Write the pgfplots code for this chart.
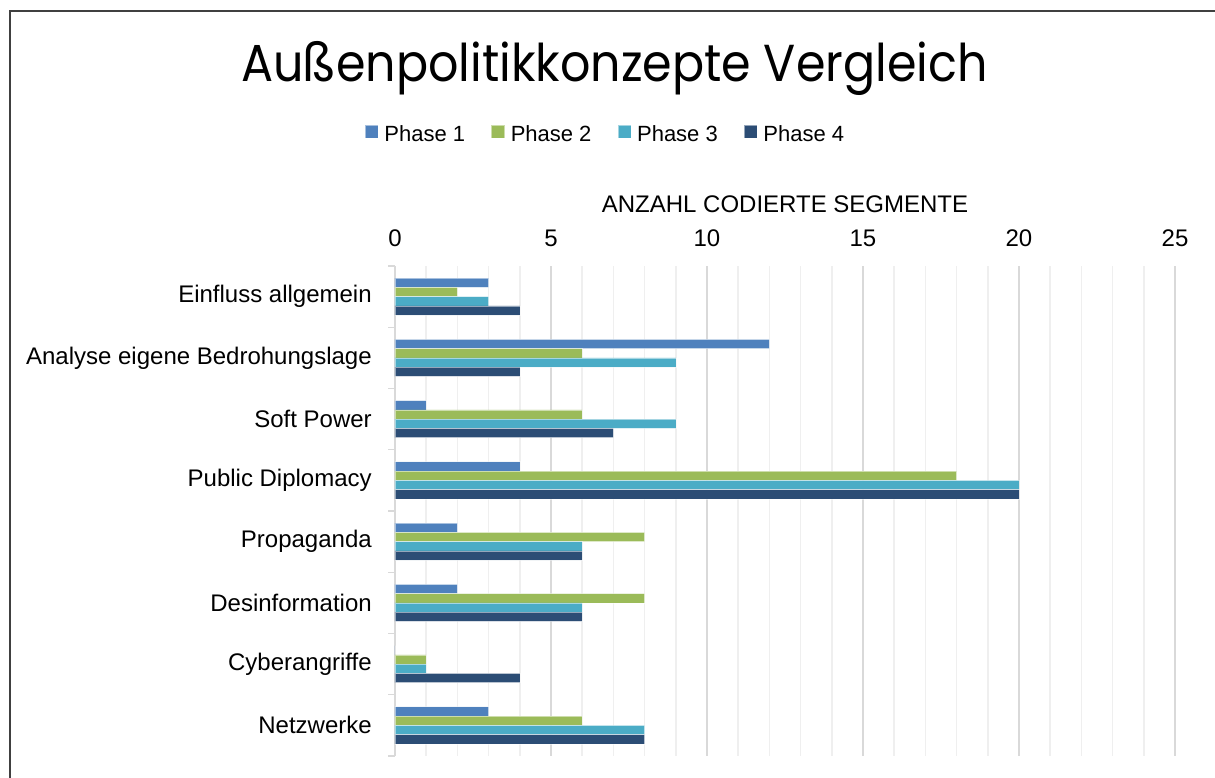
\documentclass[border=0pt]{standalone}
\usepackage{pgfplots}
\pgfplotsset{compat=1.18}
\usepackage{fontspec}
\setmainfont{Liberation Sans}
\newfontfamily\titlefont{Poppins}
\definecolor{pA}{HTML}{4F81BD}
\definecolor{pB}{HTML}{9BBB59}
\definecolor{pC}{HTML}{4BACC6}
\definecolor{pD}{HTML}{2C4D75}
\definecolor{gridmajor}{HTML}{D9D9D9}
\definecolor{gridminor}{HTML}{EFEFEF}
\definecolor{frame}{HTML}{404040}
\begin{document}
\begin{tikzpicture}
\path[use as bounding box] (0pt,0pt) rectangle (911.25pt,583.5pt);
\draw[line width=1.5pt, color=frame] (7.5pt,-5pt) -- (7.5pt,575.25pt) -- (915pt,575.25pt);
\node[anchor=base, inner sep=0pt] at (460.875pt,522pt) {\scalebox{0.915}[1]{\titlefont\fontsize{39}{46}\selectfont Außenpolitikkonzepte Vergleich}};
\begin{axis}[
  at={(296.25pt,16.5pt)}, anchor=south west,
  scale only axis, width=585pt, height=367.5pt,
  xbar, bar width=0.152,
  xmin=0, xmax=25, ymin=-0.5, ymax=7.5,
  xtick={0,5,...,25}, minor xtick={0,...,25},
  xmajorgrids, xminorgrids,
  major grid style={color=gridmajor, line width=1.1pt},
  minor grid style={color=gridminor, line width=1.1pt},
  axis x line*=top, axis y line*=left,
  x axis line style={draw=none},
  y axis line style={color=gridmajor, line width=1.1pt},
  ytick={0,...,7},
  yticklabels={Netzwerke, Cyberangriffe, Desinformation, Propaganda, Public Diplomacy, Soft Power, Analyse eigene Bedrohungslage, Einfluss allgemein},
  minor ytick={-0.5,0.5,...,7.5},
  major tick length=0pt, minor tick length=5pt, tick align=outside,
  y tick style={color=gridmajor, line width=1.1pt},
  x tick style={draw=none},
  /pgf/number format/assume math mode=true,
  ticklabel style={font=\fontsize{18}{21}\selectfont},
  xticklabel style={inner sep=0pt, anchor=south, yshift=14.6pt},
  yticklabel style={inner sep=0pt, anchor=east, xshift=-17.25pt},
  xlabel={ANZAHL CODIERTE SEGMENTE},
  xlabel style={at={(axis description cs:0.5,1)}, anchor=base, yshift=40pt, font=\fontsize{18}{21}\selectfont, inner sep=0pt},
  legend style={draw=none, at={(0.2686,1.2694)}, anchor=center, legend columns=4,
    font=\fontsize{16.5}{20}\selectfont,
    nodes={inner sep=0pt},
    /tikz/every odd column/.append style={column sep=4.5pt},
    /tikz/every even column/.append style={column sep=19.5pt}},
  legend image code/.code={\fill[#1] (0pt,-2.8pt) rectangle (9.8pt,7pt);},
  every axis plot/.append style={draw=white, draw opacity=0.5, line width=0.4pt},
]
\addplot[fill=pA, bar shift=0.228] coordinates {(3,7) (12,6) (1,5) (4,4) (2,3) (2,2) (0,1) (3,0)};
\addplot[fill=pB, bar shift=0.076] coordinates {(2,7) (6,6) (6,5) (18,4) (8,3) (8,2) (1,1) (6,0)};
\addplot[fill=pC, bar shift=-0.076] coordinates {(3,7) (9,6) (9,5) (20,4) (6,3) (6,2) (1,1) (8,0)};
\addplot[fill=pD, bar shift=-0.228] coordinates {(4,7) (4,6) (7,5) (20,4) (6,3) (6,2) (4,1) (8,0)};
\legend{Phase 1, Phase 2, Phase 3, Phase 4}
\end{axis}
\end{tikzpicture}
\end{document}
